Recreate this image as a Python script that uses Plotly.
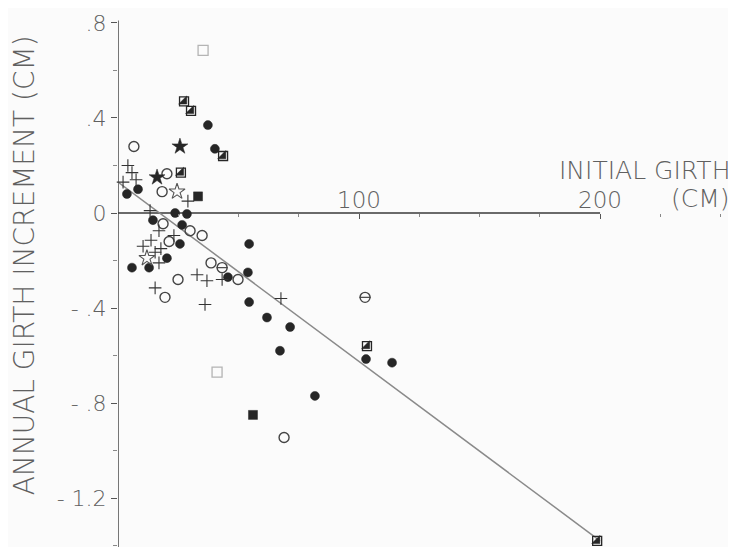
import plotly.graph_objs as go

# initial girth (cm) / annual girth increment (cm), grouped by plot symbol
filled_circle_x = [37.3, 40.2, 3.7, 8.3, 23.7, 28.6, 14.5, 26.6, 25.7, 20.3, 5.8, 12.9,
                   45.6, 54.4, 53.9, 54.4, 61.8, 71.4, 67.2, 81.7, 102.9, 113.7]
filled_circle_y = [0.37, 0.27, 0.08, 0.10, 0.0, -0.004, -0.03, -0.05, -0.13, -0.19, -0.23, -0.23,
                   -0.27, -0.13, -0.25, -0.375, -0.44, -0.48, -0.58, -0.77, -0.615, -0.63]

open_circle_x = [6.6, 20.3, 18.3, 18.7, 29.9, 34.9, 21.2, 38.6, 49.8, 24.9, 19.5, 68.9]
open_circle_y = [0.28, 0.165, 0.09, -0.045, -0.075, -0.095, -0.12, -0.21, -0.28, -0.28, -0.355, -0.945]

bar_circle_x = [102.5, 43.2]
bar_circle_y = [-0.355, -0.23]

plus_x = [4.1, 5.8, 7.5, 2.1, 29.0, 13.3, 17.0, 13.7, 10.4, 17.8, 15.4, 17.0,
          32.8, 36.9, 43.2, 15.4, 36.1, 67.6, 23.2]
plus_y = [0.20, 0.17, 0.14, 0.13, 0.05, 0.01, -0.075, -0.115, -0.14, -0.15, -0.165, -0.21,
          -0.26, -0.285, -0.28, -0.315, -0.385, -0.36, -0.095]

star_x = [25.7, 16.2]
star_y = [0.28, 0.15]

open_star_x = [24.5, 12.0]
open_star_y = [0.09, -0.19]

half_square_x = [27.4, 30.3, 43.6, 26.1, 103.3, 198.8]
half_square_y = [0.47, 0.43, 0.24, 0.17, -0.56, -1.38]

filled_square_x = [33.2, 56.0]
filled_square_y = [0.07, -0.85]

open_square_x = [35.3, 41.1]
open_square_y = [0.685, -0.67]

fit_x = [0, 200]
fit_y = [0.13, -1.38]

ytick_vals = [-1.2, -0.8, -0.4, 0, 0.4, 0.8]
ytick_text = ['- 1.2', '- .8', '- .4', '0', '.4', '.8']
xtick_vals = [100, 200]
xtick_text = ['100', '200']

ink = '#262626'
grey = '#8a8a8a'
txt = '#606060'
fam = 'DejaVu Sans'


def pts(x, y, symbol, size, color=ink, lw=1.4):
    return go.Scatter(x=x, y=y, mode='markers', showlegend=False, cliponaxis=False,
                      marker=dict(symbol=symbol, size=size, color=color,
                                  line=dict(color=color, width=lw)))


data = [
    go.Scatter(x=fit_x, y=fit_y, mode='lines', showlegend=False,
               line=dict(color=grey, width=1.5)),
    pts(filled_circle_x, filled_circle_y, 'circle', 9, lw=0.5),
    pts(open_circle_x, open_circle_y, 'circle-open', 10, color='#444'),
    pts(bar_circle_x, bar_circle_y, 'circle-open', 10, color='#444'),
    pts(bar_circle_x, bar_circle_y, 'line-ew', 8, color='#444', lw=1.2),
    pts(plus_x, plus_y, 'cross-thin-open', 9, color='#333', lw=1.1),
    pts(star_x, star_y, 'star', 12, lw=0.5),
    pts(open_star_x, open_star_y, 'star-open', 12, color='#555', lw=1.1),
    pts(half_square_x, half_square_y, 'square-open', 9, lw=1.3),
    pts(half_square_x, half_square_y, 'triangle-se', 9, lw=0.5),
    pts(filled_square_x, filled_square_y, 'square', 9, lw=0.5),
    pts(open_square_x, open_square_y, 'square-open', 10, color='#b4b4b4', lw=1.3),
]

# the page body adds an 8px margin, so the figure is sized 8px short on each axis
layout = go.Layout(
    width=728, height=539,
    margin=dict(l=110, r=0, t=0, b=0),
    paper_bgcolor='#fbfbfb', plot_bgcolor='#fbfbfb',
    font=dict(family=fam, color=txt, size=22, weight=200),
    xaxis=dict(range=[0, 256.4], showgrid=False, zeroline=False, showline=False,
               anchor='free', position=0.6197, side='top',
               tickmode='array', tickvals=xtick_vals, ticktext=xtick_text,
               ticks='inside', ticklen=5, tickcolor='#555',
               minor=dict(dtick=25, ticks='inside', ticklen=3, tickcolor='#888'),
               tickfont=dict(size=23, color=txt, weight=200)),
    yaxis=dict(range=[-1.406, 0.863], showgrid=False, zeroline=False, showline=False,
               tickmode='array', tickvals=ytick_vals, ticktext=ytick_text,
               ticks='outside', ticklen=6, tickcolor='#555',
               minor=dict(dtick=0.2, tick0=0, ticks='outside', ticklen=4, tickcolor='#888'),
               tickfont=dict(size=22, color=txt, weight=200)),
    shapes=[
        dict(type='line', xref='x', yref='y', x0=0, x1=0, y0=-1.406, y1=0.81,
             line=dict(color='#4a4a4a', width=1.5), layer='below'),
        dict(type='line', xref='x', yref='y', x0=0, x1=200, y0=0, y1=0,
             line=dict(color='#3a3a3a', width=1.6), layer='below'),
    ],
    annotations=[
        dict(text='INITIAL GIRTH', xref='paper', yref='y', x=0.994, y=0.181,
             xanchor='right', yanchor='middle', showarrow=False,
             font=dict(size=25, color=txt, weight=200)),
        dict(text='(CM)', xref='paper', yref='y', x=0.994, y=0.059,
             xanchor='right', yanchor='middle', showarrow=False,
             font=dict(size=25, color=txt, weight=200)),
        dict(text='ANNUAL GIRTH INCREMENT (CM)', xref='paper', yref='paper',
             x=-0.151, y=0.522, textangle=-90, xanchor='center', yanchor='middle',
             showarrow=False, font=dict(size=28, color=txt, weight=200)),
    ],
)

fig = go.Figure(data=data, layout=layout)
fig.write_html('out.html')
